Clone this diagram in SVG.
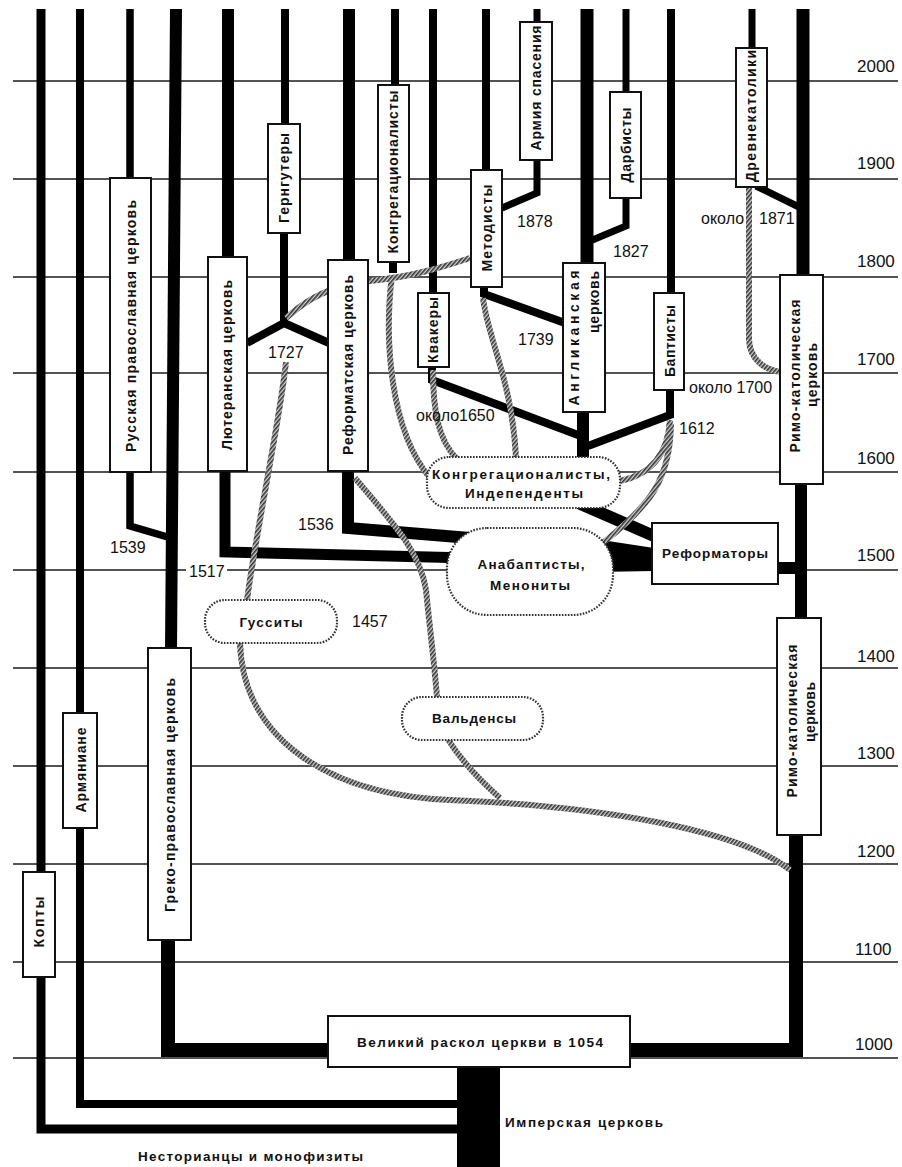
<svg xmlns="http://www.w3.org/2000/svg" width="902" height="1167" viewBox="0 0 902 1167">
<defs>
<pattern id="hatch" width="3" height="3" patternUnits="userSpaceOnUse" patternTransform="rotate(40)">
<rect width="3" height="3" fill="#d0d0d0"/>
<rect width="1.6" height="3" fill="#333"/>
</pattern>
</defs>
<style>
.grid line{stroke:#1a1a1a;stroke-width:1.5}
.tr{fill:none;stroke:#000;stroke-linejoin:miter;stroke-linecap:butt}
.ht{fill:none;stroke:url(#hatch);stroke-width:6}
.box{fill:#fff;stroke:#111;stroke-width:2}
.node{fill:#fff;stroke:#333;stroke-width:2.2;stroke-dasharray:1.6 1.4}
.v{font-family:"Liberation Sans",Arial,sans-serif;font-weight:bold;font-size:14px;fill:#111;text-anchor:middle}
.h{font-family:"Liberation Sans",Arial,sans-serif;font-weight:bold;font-size:13.5px;fill:#111;text-anchor:middle}
.hs{font-family:"Liberation Sans",Arial,sans-serif;font-weight:bold;font-size:13.5px;fill:#111}
.yr{font-family:"Liberation Sans",Arial,sans-serif;font-size:16px;fill:#111}
.yr2{font-family:"Liberation Sans",Arial,sans-serif;font-size:17px;fill:#111}
</style>
<rect width="902" height="1167" fill="#fff"/>
<g class="grid">
<line x1="13" y1="81" x2="898" y2="81"/>
<line x1="13" y1="179" x2="898" y2="179"/>
<line x1="13" y1="277" x2="898" y2="277"/>
<line x1="13" y1="373" x2="898" y2="373"/>
<line x1="13" y1="472" x2="898" y2="472"/>
<line x1="13" y1="570" x2="898" y2="570"/>
<line x1="13" y1="668" x2="898" y2="668"/>
<line x1="13" y1="766" x2="898" y2="766"/>
<line x1="13" y1="864" x2="898" y2="864"/>
<line x1="13" y1="962" x2="898" y2="962"/>
<line x1="13" y1="1058" x2="898" y2="1058"/>
</g>
<g id="connectors">
<path class="tr" stroke-width="9" d="M41,9 V1129 H458"/>
<path class="tr" stroke-width="8" d="M80,9 V1104 H458"/>
<path class="tr" stroke-width="7.5" d="M130,9 V526 L171,538"/>
<path class="tr" stroke-width="12" d="M176,9 L171,650"/>
<path class="tr" stroke-width="14" d="M168,938 V1050 H330"/>
<path class="tr" stroke-width="12" d="M228,9 V260"/>
<path class="tr" stroke-width="11" d="M225,469 V552 L470,558"/>
<path class="tr" stroke-width="8" d="M285,9 V126 M284,231 V323 L247,343 M284,323 L329,343"/>
<path class="tr" stroke-width="12" d="M349,9 V262"/>
<path class="tr" stroke-width="12" d="M348,469 V528 L470,538"/>
<path class="tr" stroke-width="8" d="M395,9 V87 M393,260 V273"/>
<path class="tr" stroke-width="8" d="M433,9 V295 M432,365 V380 L586,438"/>
<path class="tr" stroke-width="8" d="M486,9 V172 M484,285 V294 L565,323"/>
<path class="tr" stroke-width="7" d="M537,9 V24 M537,158 V193 L502,208"/>
<path class="tr" stroke-width="13" d="M587,9 V265"/>
<path class="tr" stroke-width="12" d="M583,410 V505 L654,536"/>
<path class="tr" stroke-width="7" d="M626,9 V94 M626,196 V226 L590,241"/>
<path class="tr" stroke-width="8" d="M671,9 V295 M670,388 V415 L588,446"/>
<path class="tr" stroke-width="7" d="M752,9 V50 M756,186 L801,208"/>
<path class="tr" stroke-width="13" d="M803,9 V277"/>
<path class="tr" stroke-width="12" d="M801,482 V620"/>
<path class="tr" stroke-width="14" d="M796,833 V1050 H628"/>
<path class="tr" stroke-width="12" d="M776,568 H801"/>
<polygon points="595,539 654,548 654,571 595,572" fill="#000"/>
<rect x="457" y="1065" width="43" height="102" fill="#000"/>
<path class="ht" d="M286,318 C306,300 330,285 370,281 C410,277 440,268 470,258"/>
<path class="ht" d="M247,600 C258,520 280,420 286,362"/>
<path class="ht" d="M240,643 C243,740 330,795 450,800 C600,806 740,830 790,870"/>
<path class="ht" d="M447,738 C462,762 484,784 500,798"/>
<path class="ht" d="M355,478 C390,520 420,550 426,590 C430,630 434,660 437,697"/>
<path class="ht" d="M392,275 C384,340 390,430 430,478"/>
<path class="ht" d="M433,370 C433,410 438,440 457,459"/>
<path class="ht" d="M483,298 C488,340 512,380 516,457"/>
<path class="ht" d="M670,420 C668,455 650,475 620,481"/>
<path class="ht" d="M671,424 C670,480 650,505 604,542"/>
<path class="ht" d="M749,188 L749,340 C750,360 765,370 781,372"/>
</g>
<g id="n-russian"><rect class="box" x="110" y="178" width="41" height="294"/><text class="v" transform="translate(131,326) rotate(-90)" dy="0.35em" textLength="252">Русская православная церковь</text></g>
<g id="n-lutheran"><rect class="box" x="208" y="257" width="39" height="214"/><text class="v" transform="translate(227,365) rotate(-90)" dy="0.35em" textLength="170">Лютеранская церковь</text></g>
<g id="n-herrnhut"><rect class="box" x="268" y="124" width="32" height="109"/><text class="v" transform="translate(284,178) rotate(-90)" dy="0.35em" textLength="90">Гернгутеры</text></g>
<g id="n-reformed"><rect class="box" x="328" y="260" width="40" height="211"/><text class="v" transform="translate(348,365) rotate(-90)" dy="0.35em" textLength="180">Реформатская церковь</text></g>
<g id="n-congtop"><rect class="box" x="378" y="85" width="31" height="177"/><text class="v" transform="translate(393,172) rotate(-90)" dy="0.35em" textLength="163">Конгрегационалисты</text></g>
<g id="n-quakers"><rect class="box" x="418" y="293" width="31" height="74"/><text class="v" transform="translate(433,330) rotate(-90)" dy="0.35em" textLength="66">Квакеры</text></g>
<g id="n-methodists"><rect class="box" x="471" y="170" width="31" height="117"/><text class="v" transform="translate(487,228) rotate(-90)" dy="0.35em" textLength="87">Методисты</text></g>
<g id="n-army"><rect class="box" x="520" y="22" width="32" height="138"/><text class="v" transform="translate(536,88) rotate(-90)" dy="0.35em" textLength="125">Армия спасения</text></g>
<g id="n-anglican"><rect class="box" x="563" y="263" width="42" height="149"/><text class="v" transform="translate(574,338) rotate(-90)" dy="0.35em" textLength="135">Англиканская</text><text class="v" transform="translate(594,302) rotate(-90)" dy="0.35em" textLength="62">церковь</text></g>
<g id="n-darby"><rect class="box" x="610" y="92" width="31" height="106"/><text class="v" transform="translate(626,145) rotate(-90)" dy="0.35em" textLength="75">Дарбисты</text></g>
<g id="n-baptists"><rect class="box" x="654" y="293" width="30" height="97"/><text class="v" transform="translate(670,341) rotate(-90)" dy="0.35em" textLength="72">Баптисты</text></g>
<g id="n-oldcath"><rect class="box" x="736" y="48" width="31" height="139"/><text class="v" transform="translate(751,116) rotate(-90)" dy="0.35em" textLength="132">Древнекатолики</text></g>
<g id="n-rc-upper"><rect class="box" x="780" y="275" width="43" height="209"/><text class="v" transform="translate(795,376) rotate(-90)" dy="0.35em" textLength="153">Римо-католическая</text><text class="v" transform="translate(812,375) rotate(-90)" dy="0.35em" textLength="64">церковь</text></g>
<g id="n-rc-lower"><rect class="box" x="777" y="618" width="44" height="217"/><text class="v" transform="translate(792,721) rotate(-90)" dy="0.35em" textLength="153">Римо-католическая</text><text class="v" transform="translate(810,712) rotate(-90)" dy="0.35em" textLength="60">церковь</text></g>
<g id="n-greek"><rect class="box" x="148" y="648" width="43" height="292"/><text class="v" transform="translate(170,795) rotate(-90)" dy="0.35em" textLength="234">Греко-православная церковь</text></g>
<g id="n-armenian"><rect class="box" x="63" y="713" width="34" height="115"/><text class="v" transform="translate(81,770) rotate(-90)" dy="0.35em" textLength="85">Армяниане</text></g>
<g id="n-copts"><rect class="box" x="23" y="872" width="32" height="105"/><text class="v" transform="translate(39,922) rotate(-90)" dy="0.35em" textLength="51">Копты</text></g>
<g id="n-reformers"><rect class="box" x="652" y="523" width="126" height="61"/><text class="h" x="715" y="558" textLength="106">Реформаторы</text></g>
<g id="n-schism"><rect class="box" x="328" y="1016" width="302" height="51"/><text class="h" x="480" y="1047" textLength="246">Великий раскол церкви в 1054</text></g>
<g id="n-cong"><rect class="node" x="427" y="457" width="193" height="51" rx="22"/><text class="h" x="521" y="479" textLength="178">Конгрегационалисты,</text><text class="h" x="524" y="498" textLength="118">Индепенденты</text></g>
<g id="n-anabapt"><rect class="node" x="447" y="528" width="166" height="87" rx="40"/><text class="h" x="531" y="569" textLength="107">Анабаптисты,</text><text class="h" x="530" y="590" textLength="80">Менониты</text></g>
<g id="n-hussites"><rect class="node" x="205" y="600" width="132" height="43" rx="20"/><text class="h" x="271" y="627" textLength="63">Гусситы</text></g>
<g id="n-waldens"><rect class="node" x="402" y="697" width="141" height="43" rx="20"/><text class="h" x="474" y="723" textLength="84">Вальденсы</text></g>
<g id="n-imperial"><text class="hs" x="505" y="1127" textLength="158">Имперская церковь</text></g>
<g id="n-nestor"><text class="hs" x="138" y="1161" textLength="225">Несторианцы и монофизиты</text></g>
<g id="labels">
<rect x="186" y="562" width="41" height="16" fill="#fff"/>
<text class="yr" x="189" y="577">1517</text>
<text class="yr" x="110" y="553">1539</text>
<text class="yr" x="298" y="530">1536</text>
<text class="yr" x="268" y="358">1727</text>
<text class="yr" x="352" y="627">1457</text>
<text class="yr" x="416" y="421">около1650</text>
<text class="yr" x="518" y="345">1739</text>
<text class="yr" x="679" y="434">1612</text>
<text class="yr" x="689" y="393">около 1700</text>
<text class="yr" x="517" y="227">1878</text>
<text class="yr" x="613" y="257">1827</text>
<text class="yr" x="701" y="224">около</text>
<text class="yr" x="759" y="224">1871</text>
<text class="yr2" x="857" y="72">2000</text>
<text class="yr2" x="857" y="169">1900</text>
<text class="yr2" x="857" y="267">1800</text>
<text class="yr2" x="857" y="365">1700</text>
<text class="yr2" x="857" y="464">1600</text>
<text class="yr2" x="857" y="561">1500</text>
<text class="yr2" x="857" y="662">1400</text>
<text class="yr2" x="857" y="759">1300</text>
<text class="yr2" x="857" y="857">1200</text>
<text class="yr2" x="855" y="955">1100</text>
<text class="yr2" x="855" y="1050">1000</text>
</g>
</svg>
